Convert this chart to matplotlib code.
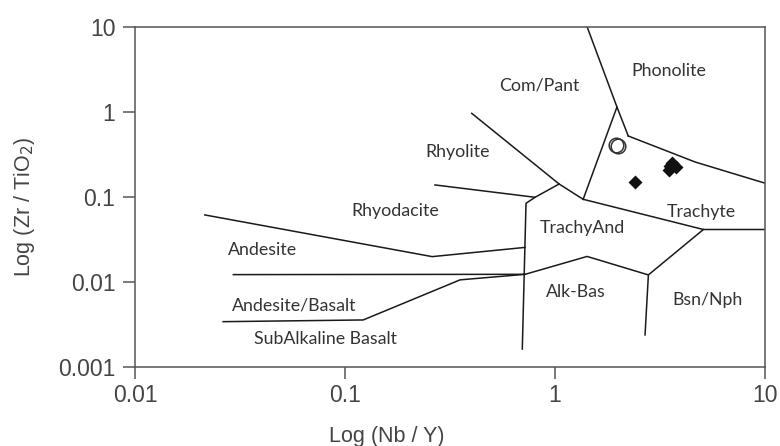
import numpy as np
import matplotlib
matplotlib.use("Agg")
import matplotlib.pyplot as plt
from matplotlib.ticker import FixedLocator, FuncFormatter, NullLocator

# field boundaries (Nb/Y, Zr/TiO2)
comp_phon_x = [1.42, 1.97, 2.23]
comp_phon_y = [10.0, 1.136, 0.518]
phon_trach_x = [2.23, 4.64, 10.0]
phon_trach_y = [0.518, 0.256, 0.144]
comp_trach_x = [1.97, 1.36]
comp_trach_y = [1.136, 0.0932]
rhyo_comp_x = [0.401, 1.045, 1.36]
rhyo_comp_y = [0.957, 0.141, 0.0932]
rhyo_rhyod_x = [0.268, 0.803, 1.045]
rhyo_rhyod_y = [0.1375, 0.0984, 0.141]
trachyand_left_x = [0.803, 0.727, 0.698]
trachyand_left_y = [0.0984, 0.0836, 0.00161]
trachyand_trach_x = [1.36, 5.08, 10.0]
trachyand_trach_y = [0.0932, 0.0411, 0.0411]
bsn_x = [5.08, 2.78, 2.68]
bsn_y = [0.0411, 0.0120, 0.00236]
alkbas_top_x = [2.78, 1.42, 0.720, 0.0294]
alkbas_top_y = [0.0120, 0.0198, 0.0122, 0.0121]
andes_rhyod_x = [0.0215, 0.260, 0.720]
andes_rhyod_y = [0.0610, 0.0197, 0.0253]
subalk_x = [0.0263, 0.122, 0.353, 0.720]
subalk_y = [0.00338, 0.00354, 0.0105, 0.0122]

boundaries = [
    (comp_phon_x, comp_phon_y), (phon_trach_x, phon_trach_y),
    (comp_trach_x, comp_trach_y), (rhyo_comp_x, rhyo_comp_y),
    (rhyo_rhyod_x, rhyo_rhyod_y), (trachyand_left_x, trachyand_left_y),
    (trachyand_trach_x, trachyand_trach_y), (bsn_x, bsn_y),
    (alkbas_top_x, alkbas_top_y), (andes_rhyod_x, andes_rhyod_y),
    (subalk_x, subalk_y),
]

# field names and label positions
field_names = ["Com/Pant", "Phonolite", "Rhyolite", "Rhyodacite", "TrachyAnd",
               "Trachyte", "Andesite", "Andesite/Basalt", "SubAlkaline Basalt",
               "Alk-Bas", "Bsn/Nph"]
field_x = [0.84, 3.49, 0.345, 0.173, 1.35, 4.96, 0.0407, 0.0572, 0.0804, 1.26, 5.30]
field_y = [2.06, 3.01, 0.336, 0.068, 0.0429, 0.0667, 0.0236, 0.00518, 0.00212, 0.00762, 0.0061]

# samples
open_x = [1.94, 1.99]
open_y = [0.411, 0.390]
filled_x = [2.40, 3.49, 3.61, 3.77, 3.53]
filled_y = [0.150, 0.206, 0.249, 0.223, 0.230]

ticks = [0.001, 0.01, 0.1, 1, 10]

fig = plt.figure(figsize=(7.8, 4.46), dpi=100)
ax = fig.add_axes([0.173, 0.178, 0.808, 0.762])
ax.set_xscale('log')
ax.set_yscale('log')
ax.set_xlim(0.01, 10)
ax.set_ylim(0.001, 10)

for bx, by in boundaries:
    ax.plot(bx, by, color='#1a1a1a', lw=1.1)

for name, fx, fy in zip(field_names, field_x, field_y):
    ax.text(fx, fy, name, ha='center', va='center', fontsize=12.8,
            family='Lato', color='#333333')

ax.plot(open_x, open_y, 'o', mfc='none', mec='#333333', mew=1.1, ms=10.5)
ax.plot(filled_x, filled_y, 'D', color='#111111', ms=7, mec='none')

ax.xaxis.set_major_locator(FixedLocator(ticks[1:]))
ax.yaxis.set_major_locator(FixedLocator(ticks))
ax.xaxis.set_minor_locator(NullLocator())
ax.yaxis.set_minor_locator(NullLocator())
fmt = FuncFormatter(lambda v, p: '{:g}'.format(v))
ax.xaxis.set_major_formatter(fmt)
ax.yaxis.set_major_formatter(fmt)
ax.tick_params(direction='out', length=8.5, width=1.1, color='#555555',
               labelsize=16.5, labelcolor='#444444', pad=4)
ax.tick_params(axis='y', pad=5.5)
for lab in ax.get_xticklabels() + ax.get_yticklabels():
    lab.set_family('Liberation Sans')
for s in ax.spines.values():
    s.set_color('#555555')
    s.set_linewidth(1.1)

ax.set_xlabel('Log (Nb / Y)', fontsize=15.5, color='#444444', family='Liberation Sans')
ax.set_ylabel('Log (Zr / TiO$_2$)', fontsize=15.5, color='#444444', family='Liberation Sans')
ax.xaxis.set_label_coords(0.40, -0.175)
ax.yaxis.set_label_coords(-0.155, 0.47)

fig.savefig('out.png', dpi=100)
